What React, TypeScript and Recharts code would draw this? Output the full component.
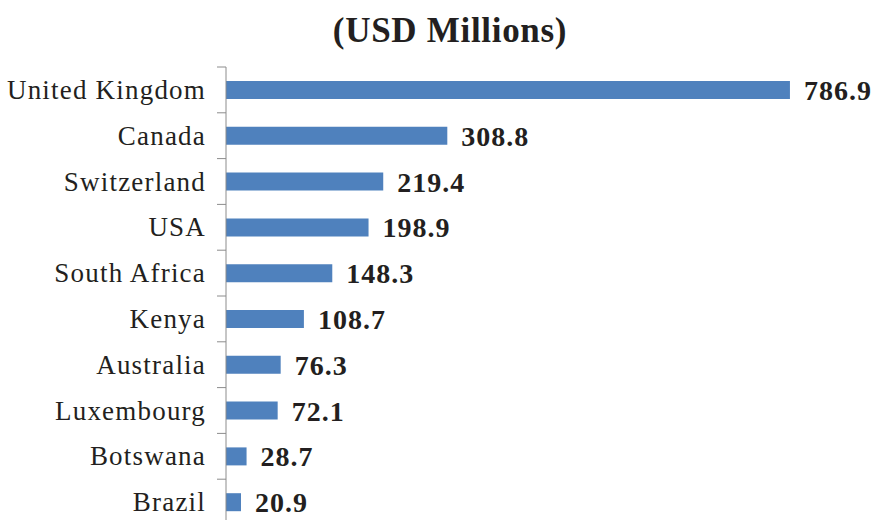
import React from "react";
import { BarChart, Bar, XAxis, YAxis, LabelList } from "recharts";

const countries = [
  "United Kingdom",
  "Canada",
  "Switzerland",
  "USA",
  "South Africa",
  "Kenya",
  "Australia",
  "Luxembourg",
  "Botswana",
  "Brazil",
];
const values = [786.9, 308.8, 219.4, 198.9, 148.3, 108.7, 76.3, 72.1, 28.7, 20.9];
const title = "(USD Millions)";

const data = countries.map((c, i) => ({ country: c, value: values[i] }));

const FONT = "'Liberation Serif', 'Times New Roman', serif";
const BAND = 45.8;

const CategoryTick = (props: any) => {
  const { x, y, payload, index } = props;
  const axisX = x + 9 + 13;
  return (
    <g>
      <line x1={axisX - 9} x2={axisX} y1={y - BAND / 2} y2={y - BAND / 2} stroke="#8c8c8c" strokeWidth={1} />
      {index === countries.length - 1 && (
        <line x1={axisX - 9} x2={axisX} y1={y + BAND / 2} y2={y + BAND / 2} stroke="#8c8c8c" strokeWidth={1} />
      )}
      <text
        x={x + 2}
        y={y}
        dy={9}
        textAnchor="end"
        fill="#231f20"
        fontFamily={FONT}
        fontSize={27}
        letterSpacing={1.2}
      >
        {payload.value}
      </text>
    </g>
  );
};

export default function App() {
  return (
    <div style={{ position: "absolute", left: 0, top: 0, width: 876, height: 520, overflow: "hidden", background: "#fff" }}>
      <div
        style={{
          position: "absolute",
          left: 0,
          top: 11,
          width: 900,
          textAlign: "center",
          fontFamily: FONT,
          fontWeight: "bold",
          fontSize: 35,
          letterSpacing: 0.7,
          lineHeight: "40px",
          color: "#231f20",
          whiteSpace: "nowrap",
        }}
      >
        {title}
      </div>
      <BarChart
        width={876}
        height={540}
        data={data}
        layout="vertical"
        margin={{ top: 67, right: 5, bottom: 15, left: 0 }}
        barSize={18}
      >
        <XAxis type="number" domain={[0, 900]} hide />
        <YAxis
          type="category"
          dataKey="country"
          width={226}
          tickLine={false}
          tickSize={9}
          tickMargin={13}
          axisLine={{ stroke: "#8c8c8c", strokeWidth: 1 }}
          tick={<CategoryTick />}
          interval={0}
        />
        <Bar dataKey="value" fill="#4f81bd" isAnimationActive={false}>
          <LabelList
            dataKey="value"
            position="right"
            offset={14}
            fill="#231f20"
            fontFamily={FONT}
            fontWeight="bold"
            fontSize={28}
            letterSpacing={1}
            formatter={(v: any) => Number(v).toFixed(1)}
          />
        </Bar>
      </BarChart>
    </div>
  );
}
